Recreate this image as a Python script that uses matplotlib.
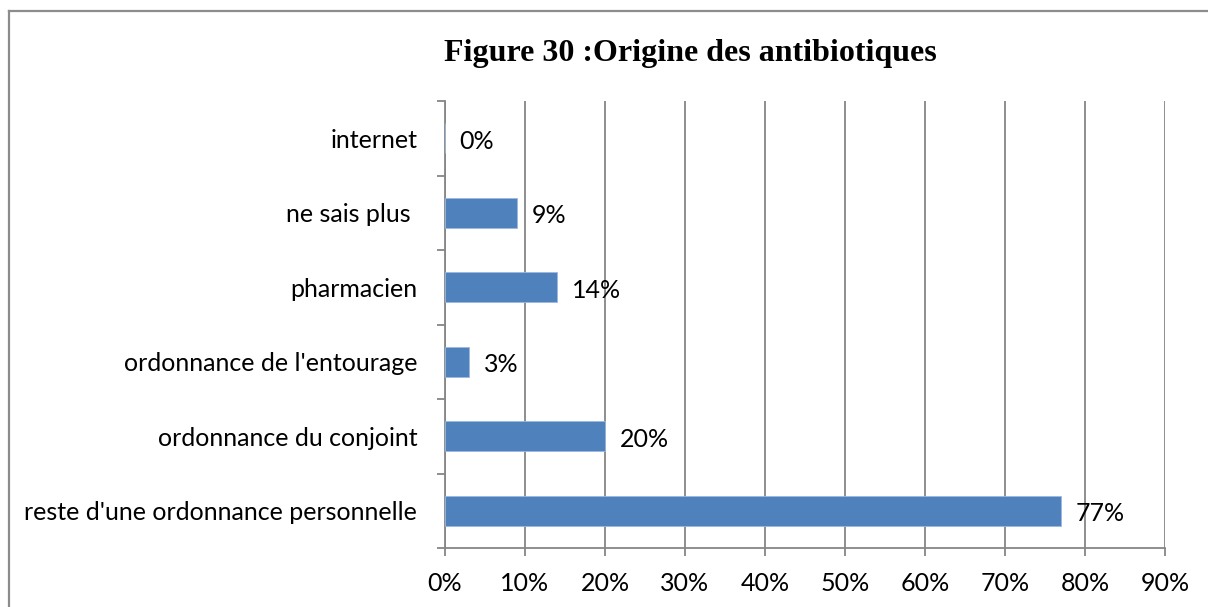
import matplotlib
matplotlib.use("Agg")
import matplotlib.pyplot as plt
from matplotlib.lines import Line2D
from matplotlib.ticker import FixedLocator, PercentFormatter

categories = ["reste d'une ordonnance personnelle", "ordonnance du conjoint",
              "ordonnance de l'entourage", "pharmacien", "ne sais plus ", "internet"]
values = [77, 20, 3, 14, 9, 0]
value_labels = ["77%", "20%", "3%", "14%", "9%", "0%"]
xticks = [0, 10, 20, 30, 40, 50, 60, 70, 80, 90]
title = "Figure 30 :Origine des antibiotiques"

W, H = 1208, 607
fig = plt.figure(figsize=(W / 100, H / 100), dpi=100)
fig.patch.set_facecolor("white")

# outer border (top and left visible)
gray_border = "#8c8c8c"
fig.add_artist(Line2D([9 / W, 1.0], [1 - 11 / H, 1 - 11 / H], transform=fig.transFigure,
                      color=gray_border, lw=1.6))
fig.add_artist(Line2D([9 / W, 9 / W], [0, 1 - 11 / H], transform=fig.transFigure,
                      color=gray_border, lw=1.6))

ax = fig.add_axes([445 / W, 1 - 548 / H, (1165 - 445) / W, (548 - 101) / H])

font = "Lato"
fs = 18
grid_c = "#868686"

ypos = list(range(len(categories)))
ax.barh(ypos, values, height=0.4, color="#4F81BD", edgecolor="#9DB9DE", linewidth=0.6, zorder=3)

for y, v, lab in zip(ypos, values, value_labels):
    ax.annotate(lab, (v, y), xytext=(10.5, -2), textcoords="offset points",
                ha="left", va="center", fontsize=fs, family=font, color="black", zorder=4)

ax.set_xlim(0, 90)
ax.set_ylim(-0.5, len(categories) - 0.5)
ax.xaxis.set_major_locator(FixedLocator(xticks))
ax.xaxis.set_major_formatter(PercentFormatter(decimals=0))
ax.set_yticks(ypos)
ax.set_yticklabels(categories, fontsize=fs, family=font)
ax.yaxis.set_minor_locator(FixedLocator([i - 0.5 for i in range(len(categories) + 1)]))

for lab in ax.get_xticklabels():
    lab.set_fontsize(fs)
    lab.set_family(font)

ax.tick_params(axis="y", which="major", length=0, pad=20)
ax.tick_params(axis="y", which="minor", length=6, width=1.3, color=grid_c, direction="out")
ax.tick_params(axis="x", which="major", length=6, width=1.3, color=grid_c, direction="out", pad=11)

ax.grid(axis="x", color=grid_c, linewidth=1.3, zorder=0)
ax.set_axisbelow(True)
for s in ["top", "right"]:
    ax.spines[s].set_visible(False)
for s in ["left", "bottom"]:
    ax.spines[s].set_color(grid_c)
    ax.spines[s].set_linewidth(1.3)

fig.text(690 / W, 1 - 54 / H, title, ha="center", va="center",
         fontsize=23, fontweight="bold", family="Liberation Serif")

fig.savefig("out.png", dpi=100)
